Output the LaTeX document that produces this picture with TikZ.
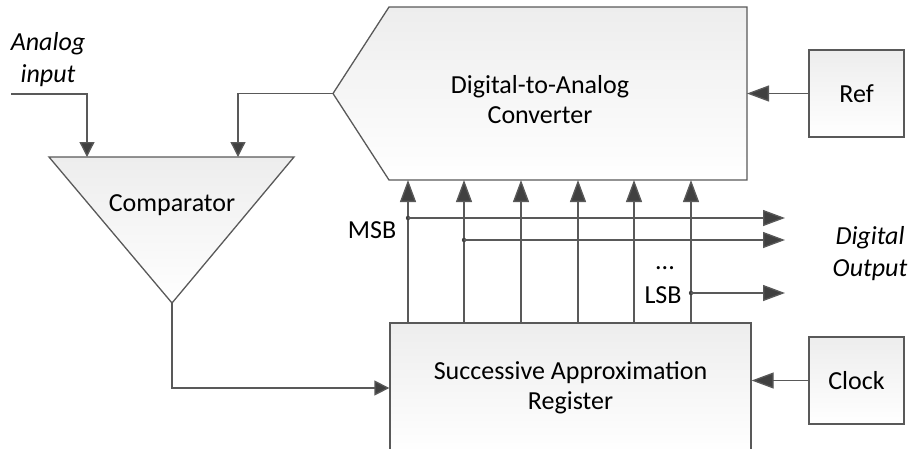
\documentclass[tikz,border=0pt]{standalone}
\usepackage{fontspec}
\setmainfont{Carlito}
\usepackage{tikz}
\usetikzlibrary{arrows.meta,positioning,calc}
\definecolor{wire}{HTML}{595959}
\definecolor{tip}{HTML}{404040}
\definecolor{shadetop}{HTML}{EDEDED}

\begin{document}
\begin{tikzpicture}[x=1pt, y=1pt,
  blk/.style={draw=wire, line width=1.3pt, top color=shadetop, bottom color=white, align=center, font=\fontsize{26}{30}\selectfont},
  txt/.style={align=center, font=\fontsize{26}{30}\selectfont, inner sep=0pt},
  ital/.style={txt, font=\fontsize{26}{32}\selectfont\itshape},
  wirearr/.style={draw=wire, line width=1.3pt, -{Triangle[length=22pt, width=16pt, fill=tip]}},
  smallarr/.style={draw=wire, line width=1.3pt, -{Triangle[length=15pt, width=15pt, fill=tip]}}]
  \useasboundingbox (0,0) rectangle (912,-448);
  % blocks
  \path[blk] (389,-7) -- (747,-7) -- (747,-180) -- (389,-180) -- (333,-93.5) -- cycle;
  \coordinate (dacw) at (333,-93.5);
  \coordinate (dace) at (747,-93.5);
  \coordinate (dacb) at (568,-180);
  \node[txt] (dac) at (540,-100) {Digital-to-Analog\\Converter};
  \path[blk] (49,-157) -- (294,-157) -- (172,-303) -- cycle;
  \coordinate (cmpa) at (87,-157);
  \coordinate (cmpb) at (238,-157);
  \coordinate (cmpo) at (172,-303);
  \node[txt] (cmp) at (172,-205) {Comparator};
  \node[blk, minimum width=361, minimum height=130] (sar) at (570.5,-388) {Successive Approximation\\Register};
  \node[blk, minimum width=95, minimum height=87] (ref) at (856.5,-93.5) {Ref};
  \node[blk, minimum width=95, minimum height=87] (clk) at (856.5,-380.5) {Clock};
  % inputs
  \coordinate (ain) at (11,-94);
  \node[ital] (ainlbl) at (48,-60) {Analog\\input};
  \draw[smallarr] (ain) -| (cmpa);
  \draw[smallarr] (dacw) -| (cmpb);
  \draw[smallarr] (cmpo) |- (sar.west);
  \draw[wirearr] (ref.west) -- (dace);
  \draw[wirearr] (clk.west) -- (sar.east |- clk.west);
  % bit lines
  \foreach \bx in {408,464,521,578,634,691}
    \draw[wirearr] (sar.north -| \bx,0) -- (dacb -| \bx,0);
  \coordinate (msb) at (408,-218);
  \coordinate (bit2) at (464,-240);
  \coordinate (lsb) at (691,-293);
  \foreach \tap in {msb,bit2,lsb} {
    \fill[tip] (\tap) circle (2.2);
    \draw[wirearr] (\tap) -- (\tap -| 785,0);
  }
  \node[txt] (msblbl) at (372,-230) {MSB};
  \node[txt] (dotslbl) at (665,-268) {...};
  \node[txt] (lsblbl) at (663,-295) {LSB};
  \node[ital] (doutlbl) at (870,-254) {Digital\\Output};
\end{tikzpicture}
\end{document}
